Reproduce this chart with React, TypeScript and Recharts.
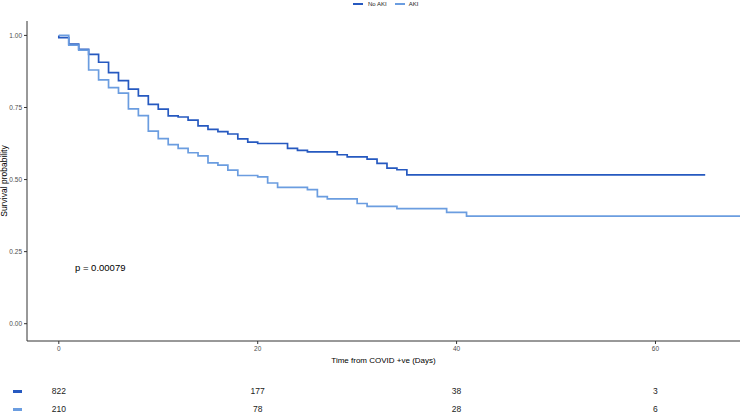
import { LineChart, Line, XAxis, YAxis, ScatterChart, Scatter } from 'recharts'

const noAkiTime = [0, 0, 1, 2, 3, 4, 5, 6, 7, 8, 9, 10, 11, 12, 13, 14, 15, 16, 17, 18, 19, 20, 23, 24, 25, 28, 29, 31, 32, 33, 34, 35, 65]
const noAkiSurv = [1.0, 0.992, 0.970, 0.952, 0.934, 0.907, 0.871, 0.843, 0.814, 0.790, 0.761, 0.744, 0.721, 0.717, 0.706, 0.686, 0.674, 0.666, 0.658, 0.641, 0.630, 0.625, 0.608, 0.601, 0.596, 0.586, 0.579, 0.571, 0.556, 0.540, 0.534, 0.516, 0.516]

const akiTime = [0, 1, 2, 3, 4, 5, 6, 7, 8, 9, 10, 11, 12, 13, 14, 15, 16, 17, 18, 20, 21, 22, 25, 26, 27, 30, 31, 34, 39, 41, 68.5]
const akiSurv = [1.0, 0.966, 0.949, 0.880, 0.846, 0.819, 0.800, 0.745, 0.722, 0.668, 0.642, 0.621, 0.608, 0.593, 0.582, 0.558, 0.550, 0.533, 0.514, 0.509, 0.488, 0.473, 0.465, 0.441, 0.433, 0.417, 0.407, 0.399, 0.386, 0.373, 0.373]

const riskTimes = [0, 20, 40, 60]
const riskNoAki = [822, 177, 38, 3]
const riskAki = [210, 78, 28, 6]

const xTicks = [0, 20, 40, 60]
const yTicks = [0, 0.25, 0.5, 0.75, 1]

const DARK = '#2659c0'
const LIGHT = '#6b9de0'
const AXIS = '#333333'
const FONT = '"Liberation Sans", Arial, sans-serif'

const noAkiData = noAkiTime.map((t, i) => ({ t, s: noAkiSurv[i] }))
const akiData = akiTime.map((t, i) => ({ t, s: akiSurv[i] }))
const riskData = [
  ...riskTimes.map((t, i) => ({ t, row: 2, n: riskNoAki[i] })),
  ...riskTimes.map((t, i) => ({ t, row: 1, n: riskAki[i] })),
]

const xDomain: [number, number] = [-3.2, 68.5]

function RiskText(props: any) {
  const { cx, cy, payload } = props
  return (
    <text x={cx} y={cy} textAnchor="middle" dominantBaseline="central" fontSize={8.5} fill="#222" fontFamily={FONT}>
      {payload.n}
    </text>
  )
}

export default function App() {
  return (
    <div style={{ position: 'absolute', left: 0, top: 0, width: 740, height: 415, background: '#fff', fontFamily: FONT }}>
      {/* legend */}
      <div style={{ position: 'absolute', top: 0, left: 353, height: 8, display: 'flex', alignItems: 'center', fontSize: 6, color: '#222' }}>
        <span style={{ width: 10, height: 2, background: DARK, display: 'inline-block' }} />
        <span style={{ marginLeft: 5 }}>No AKI</span>
        <span style={{ width: 10, height: 2, background: LIGHT, display: 'inline-block', marginLeft: 8 }} />
        <span style={{ marginLeft: 4 }}>AKI</span>
      </div>

      <LineChart width={740} height={365} margin={{ top: 21, right: 0, bottom: 0, left: 0 }}>
        <XAxis
          dataKey="t"
          type="number"
          domain={xDomain}
          ticks={xTicks}
          allowDataOverflow
          stroke={AXIS}
          tickSize={3}
          tickMargin={2}
          height={24}
          tick={{ fontSize: 6.5, fill: '#4d4d4d', fontFamily: FONT }}
          label={{ value: 'Time from COVID +ve (Days)', position: 'insideBottom', offset: 2, fontSize: 8, fill: '#000', fontFamily: FONT }}
        />
        <YAxis
          type="number"
          domain={[-0.06, 1.05]}
          ticks={yTicks}
          allowDataOverflow
          stroke={AXIS}
          width={27}
          tickSize={3}
          tickMargin={2}
          tickFormatter={(v: number) => v.toFixed(2)}
          tick={{ fontSize: 6.5, fill: '#4d4d4d', fontFamily: FONT }}
          label={{ value: 'Survival probability', angle: -90, position: 'center', dx: -9.5, fontSize: 8.5, fill: '#000', fontFamily: FONT }}
        />
        <Line data={noAkiData} dataKey="s" type="stepAfter" stroke={DARK} strokeWidth={1.7} dot={false} isAnimationActive={false} />
        <Line data={akiData} dataKey="s" type="stepAfter" stroke={LIGHT} strokeWidth={1.7} dot={false} isAnimationActive={false} />
      </LineChart>

      <div style={{ position: 'absolute', left: 75, top: 268, transform: 'translateY(-50%)', fontSize: 9.5, lineHeight: 1, color: '#000' }}>
        p = 0.00079
      </div>

      {/* risk table */}
      <div style={{ position: 'absolute', left: 13, top: 390, width: 9, height: 3, background: DARK }} />
      <div style={{ position: 'absolute', left: 13, top: 408, width: 9, height: 3, background: LIGHT }} />
      <div style={{ position: 'absolute', left: 0, top: 373 }}>
        <ScatterChart width={740} height={54} margin={{ top: 0, right: 0, bottom: 0, left: 27 }}>
          <XAxis dataKey="t" type="number" domain={xDomain} hide />
          <YAxis dataKey="row" type="number" domain={[0, 3]} hide />
          <Scatter data={riskData} shape={RiskText} isAnimationActive={false} />
        </ScatterChart>
      </div>
    </div>
  )
}
